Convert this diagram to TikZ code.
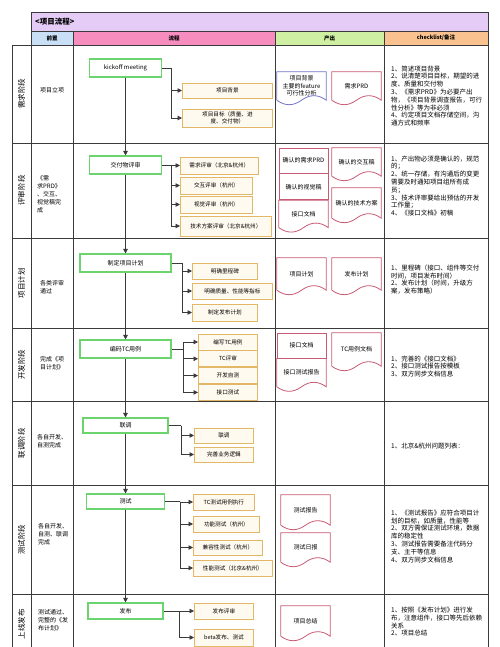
\documentclass[tikz,border=0pt]{standalone}
\usepackage{fontspec}
\setmainfont{Noto Sans CJK SC}
\usetikzlibrary{positioning, arrows.meta, calc}

\definecolor{titlebg}{HTML}{E4CCF6}
\definecolor{prebg}{HTML}{C8DFF6}
\definecolor{flowbg}{HTML}{F78DBF}
\definecolor{outbg}{HTML}{CFEFA2}
\definecolor{notebg}{HTML}{F9C28E}
\definecolor{gridline}{HTML}{3A3A3A}
\definecolor{stepgreen}{HTML}{6CD46C}
\definecolor{taskline}{HTML}{E2B868}
\definecolor{taskfill}{HTML}{FFFAEF}
\definecolor{docred}{HTML}{C85A74}
\definecolor{docblue}{HTML}{7474CC}

\newcommand{\sz}[2]{\fontsize{#1bp}{#2bp}\selectfont}
\newcommand{\wavedoc}[2]{%
  \draw[#2, line width=0.8bp] (#1.south west) -- (#1.north west) -- (#1.north east) -- (#1.south east)
    .. controls ($(#1.south east)!0.33!(#1.south)+(0,-6)$) and ($(#1.south east)!0.67!(#1.south)+(0,-6)$) .. (#1.south)
    .. controls ($(#1.south)!0.33!(#1.south west)+(0,6)$) and ($(#1.south)!0.67!(#1.south west)+(0,6)$) .. (#1.south west);}

\begin{document}
\begin{tikzpicture}[x=1bp,y=-1bp]
\tikzstyle{every node}=[inner sep=1bp, font=\sz{6}{7.5}]
\tikzstyle{tabline}=[draw=gridline, line width=0.8bp]
\tikzstyle{link}=[draw=gridline, line width=0.8bp, >={Triangle[length=4.5bp,width=4.5bp]}]
\tikzstyle{mainlink}=[draw=gridline, line width=1.1bp, >={Triangle[length=4.5bp,width=4.5bp]}]
\tikzstyle{stepbox}=[draw=stepgreen, line width=1.1bp, fill=white, minimum width=72bp, minimum height=18bp]
\tikzstyle{taskbox}=[draw=taskline, line width=0.8bp, fill=taskfill, anchor=west, minimum height=16bp, align=center, font=\sz{5.6}{7}]
\tikzstyle{docnode}=[minimum width=49bp, inner sep=0pt, align=center]
\tikzstyle{docrect}=[docnode, draw=docred, line width=0.8bp]
\tikzstyle{phaselbl}=[rotate=90, font=\sz{7.5}{9}]
\tikzstyle{prenote}=[anchor=west, align=left, inner sep=0pt, font=\sz{6}{8}]
\tikzstyle{notetext}=[anchor=west, align=left, inner sep=0pt, font=\sz{6.5}{7.8}]
\tikzstyle{hdr}=[font=\sz{5.5}{6.5}\bfseries]

\fill[white] (0,0) rectangle (500,647);
\useasboundingbox (0,0) rectangle (500,647);

\fill[titlebg] (31,12) rectangle (488,31);
\fill[prebg] (31,31) rectangle (73,45);
\fill[flowbg] (73,31) rectangle (275,45);
\fill[outbg] (275,31) rectangle (384,45);
\fill[notebg] (384,31) rectangle (488,45);
\draw[tabline] (31,12) -- (488,12) (31,31) -- (488,31) (12,45) -- (488,45);
\foreach \y in {143,238,328,401,485,594} \draw[tabline] (12,\y) -- (488,\y);
\foreach \x in {31,488} \draw[tabline] (\x,12) -- (\x,647);
\foreach \x in {73,275,384} \draw[tabline] (\x,31) -- (\x,647);
\draw[tabline] (12,45) -- (12,647);

\node[anchor=west, font=\sz{7.5}{9}\bfseries] (title) at (34,21.5) {<项目流程>};
\node[hdr] (h1) at (52,38) {前置};
\node[hdr] (h2) at (174,38) {流程};
\node[hdr] (h3) at (329.5,38) {产出};
\node[hdr] (h4) at (436,38) {checklist/备注};

\foreach \t/\y [count=\i] in {需求阶段/94, 评审阶段/190.5, 项目计划/283, 开发阶段/364.5, 联调阶段/443, 测试阶段/539.5, 上线发布/624}
  \node[phaselbl] (ph\i) at (21.5,\y) {\t};

\node[prenote] (W1) at (40,90) {项目立项};
\node[prenote] (W2) at (37,194) {《需\\求PRD》\\、交互、\\视觉稿完\\成};
\node[prenote] (W3) at (40,287) {各类评审\\通过};
\node[prenote] (W4) at (40,363.5) {完成《项\\目计划》};
\node[prenote] (W5) at (37,441.5) {各自开发、\\自测完成};
\node[prenote] (W6) at (38,534) {各自开发、\\自测、联调\\完成};
\node[prenote] (W7) at (38,620) {测试通过、\\完整的《发\\布计划》};

\node[stepbox] (K) at (125.5,68) {kickoff meeting};
\node[stepbox] (D) at (125.5,165) {交付物评审};
\node[stepbox, minimum width=91bp] (P) at (125.5,263) {制定项目计划};
\node[stepbox, minimum width=91bp] (C) at (125.5,349) {编码TC用例};
\node[stepbox, minimum width=85bp, minimum height=15bp] (J) at (125.5,425.5) {联调};
\node[stepbox, minimum width=78bp, minimum height=15bp] (T) at (125.5,501.5) {测试};
\node[stepbox, minimum width=75bp, minimum height=16bp] (R) at (125.5,611) {发布};

\draw[mainlink, ->] (K) -- (D);
\draw[mainlink, ->] (D) -- (P);
\draw[mainlink, ->] (P) -- (C);
\draw[mainlink, ->] (C) -- (J);
\draw[mainlink, ->] (J) -- (T);
\draw[mainlink, ->] (T) -- (R);

\node[taskbox, minimum width=90bp, minimum height=15bp] (B1) at (182,90.5) {项目背景};
\node[taskbox, minimum width=90bp, minimum height=18bp] (B2) at (182,118) {项目目标（质量、进\\度、交付物）};

\node[taskbox, minimum width=78bp, minimum height=17bp] (V1) at (180,165.5) {需求评审（北京\&杭州）};
\node[taskbox, minimum width=72bp, minimum height=17bp] (V2) at (180,185.5) {交互评审（杭州）};
\node[taskbox, minimum width=72bp, minimum height=17bp] (V3) at (180,204.5) {视觉评审（杭州）};
\node[taskbox, minimum width=91bp, minimum height=20bp] (V4) at (180,226) {技术方案评审（北京\&杭州）};

\node[taskbox, minimum width=65bp] (M1) at (192,271) {明确里程碑};
\node[taskbox, minimum width=80bp] (M2) at (192,291) {明确质量、性能等指标};
\node[taskbox, minimum width=65bp, minimum height=17bp] (M3) at (192,312.5) {制定发布计划};

\node[taskbox, minimum width=59bp] (E1) at (198,342) {编写TC用例};
\node[taskbox, minimum width=59bp, below=0pt of E1] (E2) {TC评审};
\node[taskbox, minimum width=59bp, below=0pt of E2] (E3) {开发自测};
\node[taskbox, minimum width=59bp, below=0pt of E3] (E4) {接口测试};

\node[taskbox, minimum width=59bp, minimum height=15bp] (L1) at (194,435.5) {联调};
\node[taskbox, minimum width=59bp, minimum height=15bp] (L2) at (194,454.5) {完善业务逻辑};

\node[taskbox, minimum width=61bp] (S1) at (193,502) {TC测试用例执行};
\node[taskbox, minimum width=66bp] (S2) at (193,524) {功能测试（杭州）};
\node[taskbox, minimum width=69bp, minimum height=15bp] (S3) at (193,547.5) {兼容性测试（杭州）};
\node[taskbox, minimum width=79bp] (S4) at (193,568) {性能测试（北京\&杭州）};

\node[taskbox, minimum width=59bp] (F1) at (194,611) {发布评审};
\node[taskbox, minimum width=59bp, minimum height=17bp] (F2) at (194,637.5) {beta发布、测试};

\coordinate (kb) at (171,68);
\coordinate (db) at (171,165);
\coordinate (pb) at (182,263);
\coordinate (cb) at (183,349);
\coordinate (jb) at (181,425.5);
\coordinate (tb) at (180,501.5);
\coordinate (rb) at (179,611);

\draw[link, ->] (K) -- (kb) |- (B1);
\draw[link, ->] (kb) |- (B2);
\draw[link, ->] (D) -- (db) |- (V1);
\foreach \n in {V2,V3,V4} \draw[link, ->] (db) |- (\n);
\draw[link] (P) -- (pb);
\foreach \n in {M1,M2,M3} \draw[link, ->] (pb) |- (\n);
\draw[link] (C) -- (cb);
\foreach \n in {E1,E2,E3,E4} \draw[link, ->] (cb) |- (\n);
\draw[link] (J) -- (jb);
\foreach \n in {L1,L2} \draw[link, ->] (jb) |- (\n);
\draw[link] (T) -- (tb);
\foreach \n in {S1,S2,S3,S4} \draw[link, ->] (tb) |- (\n);
\draw[link] (R) -- (rb);
\foreach \n in {F1,F2} \draw[link, ->] (rb) |- (\n);

\node[docnode, minimum height=28bp] (A1) at (301.5,86) {项目背景\\主要的feature\\可行性分析};
\wavedoc{A1}{docblue}
\node[docnode, minimum height=28bp] (A2) at (356.5,86) {需求PRD};
\wavedoc{A2}{docred}

\node[docrect, minimum height=25bp] (G1) at (303.5,160.5) {确认的需求PRD};
\node[docrect, minimum height=26bp, below=0pt of G1] (G2) {确认的视觉稿};
\node[docnode, minimum height=27bp, below=0pt of G2] (G3) {接口文档};
\wavedoc{G3}{docred}
\node[docnode, minimum height=28bp] (H1) at (356.5,162) {确认的交互稿};
\wavedoc{H1}{docred}
\node[docnode, minimum height=30bp] (H2) at (356.5,203) {确认的技术方案};
\wavedoc{H2}{docred}

\node[docnode, minimum height=32bp] (P1) at (301.5,274) {项目计划};
\wavedoc{P1}{docred}
\node[docnode, minimum height=32bp] (P2) at (356.5,274) {发布计划};
\wavedoc{P2}{docred}

\node[docrect, minimum height=25bp] (Q1) at (301.5,345.5) {接口文档};
\node[docnode, minimum height=28bp, below=0pt of Q1] (Q2) {接口测试报告};
\wavedoc{Q2}{docred}
\node[docnode, minimum height=33bp] (Q3) at (356.5,349.5) {TC用例文档};
\wavedoc{Q3}{docred}

\node[docnode, minimum height=30bp] (T1) at (305.5,510) {测试报告};
\wavedoc{T1}{docred}
\node[docnode, minimum height=29bp] (T2) at (305.5,547.5) {测试日报};
\wavedoc{T2}{docred}

\node[docnode, minimum height=30bp] (U1) at (305.5,621) {项目总结};
\wavedoc{U1}{docred}

\node[notetext] (N1) at (391,96) {1、简述项目背景\\2、说清楚项目目标，期望的进\\度、质量和交付物\\3、《需求PRD》为必要产出\\物，《项目背景调查报告，可行\\性分析》等为非必须\\4、约定项目文档存储空间，沟\\通方式和频率};
\node[notetext] (N2) at (391,186) {1、产出物必须是确认的，规范\\的；\\2、统一存储，有沟通后的变更\\需要及时通知项目组所有成\\员；\\3、技术评审要给出预估的开发\\工作量；\\4、《接口文档》初稿};
\node[notetext] (N3) at (391,279.5) {1、里程碑（接口、组件等交付\\时间，项目发布时间）\\2、发布计划（时间，升级方\\案，发布策略）};
\node[notetext] (N4) at (391,366.4) {1、完善的《接口文档》\\2、接口测试报告按模板\\3、双方同步文档信息};
\node[notetext] (N5) at (391,446) {1、北京\&杭州问题列表：};
\node[notetext] (N6) at (391,536.3) {1、《测试报告》应符合项目计\\划的目标，如质量，性能等\\2、双方需保证测试环境，数据\\库的稳定性\\3、测试报告需要备注代码分\\支、主干等信息\\4、双方同步文档信息};
\node[notetext] (N7) at (391,621.7) {1、按照《发布计划》进行发\\布，注意组件，接口等先后依赖\\关系\\2、项目总结};
\end{tikzpicture}
\end{document}
